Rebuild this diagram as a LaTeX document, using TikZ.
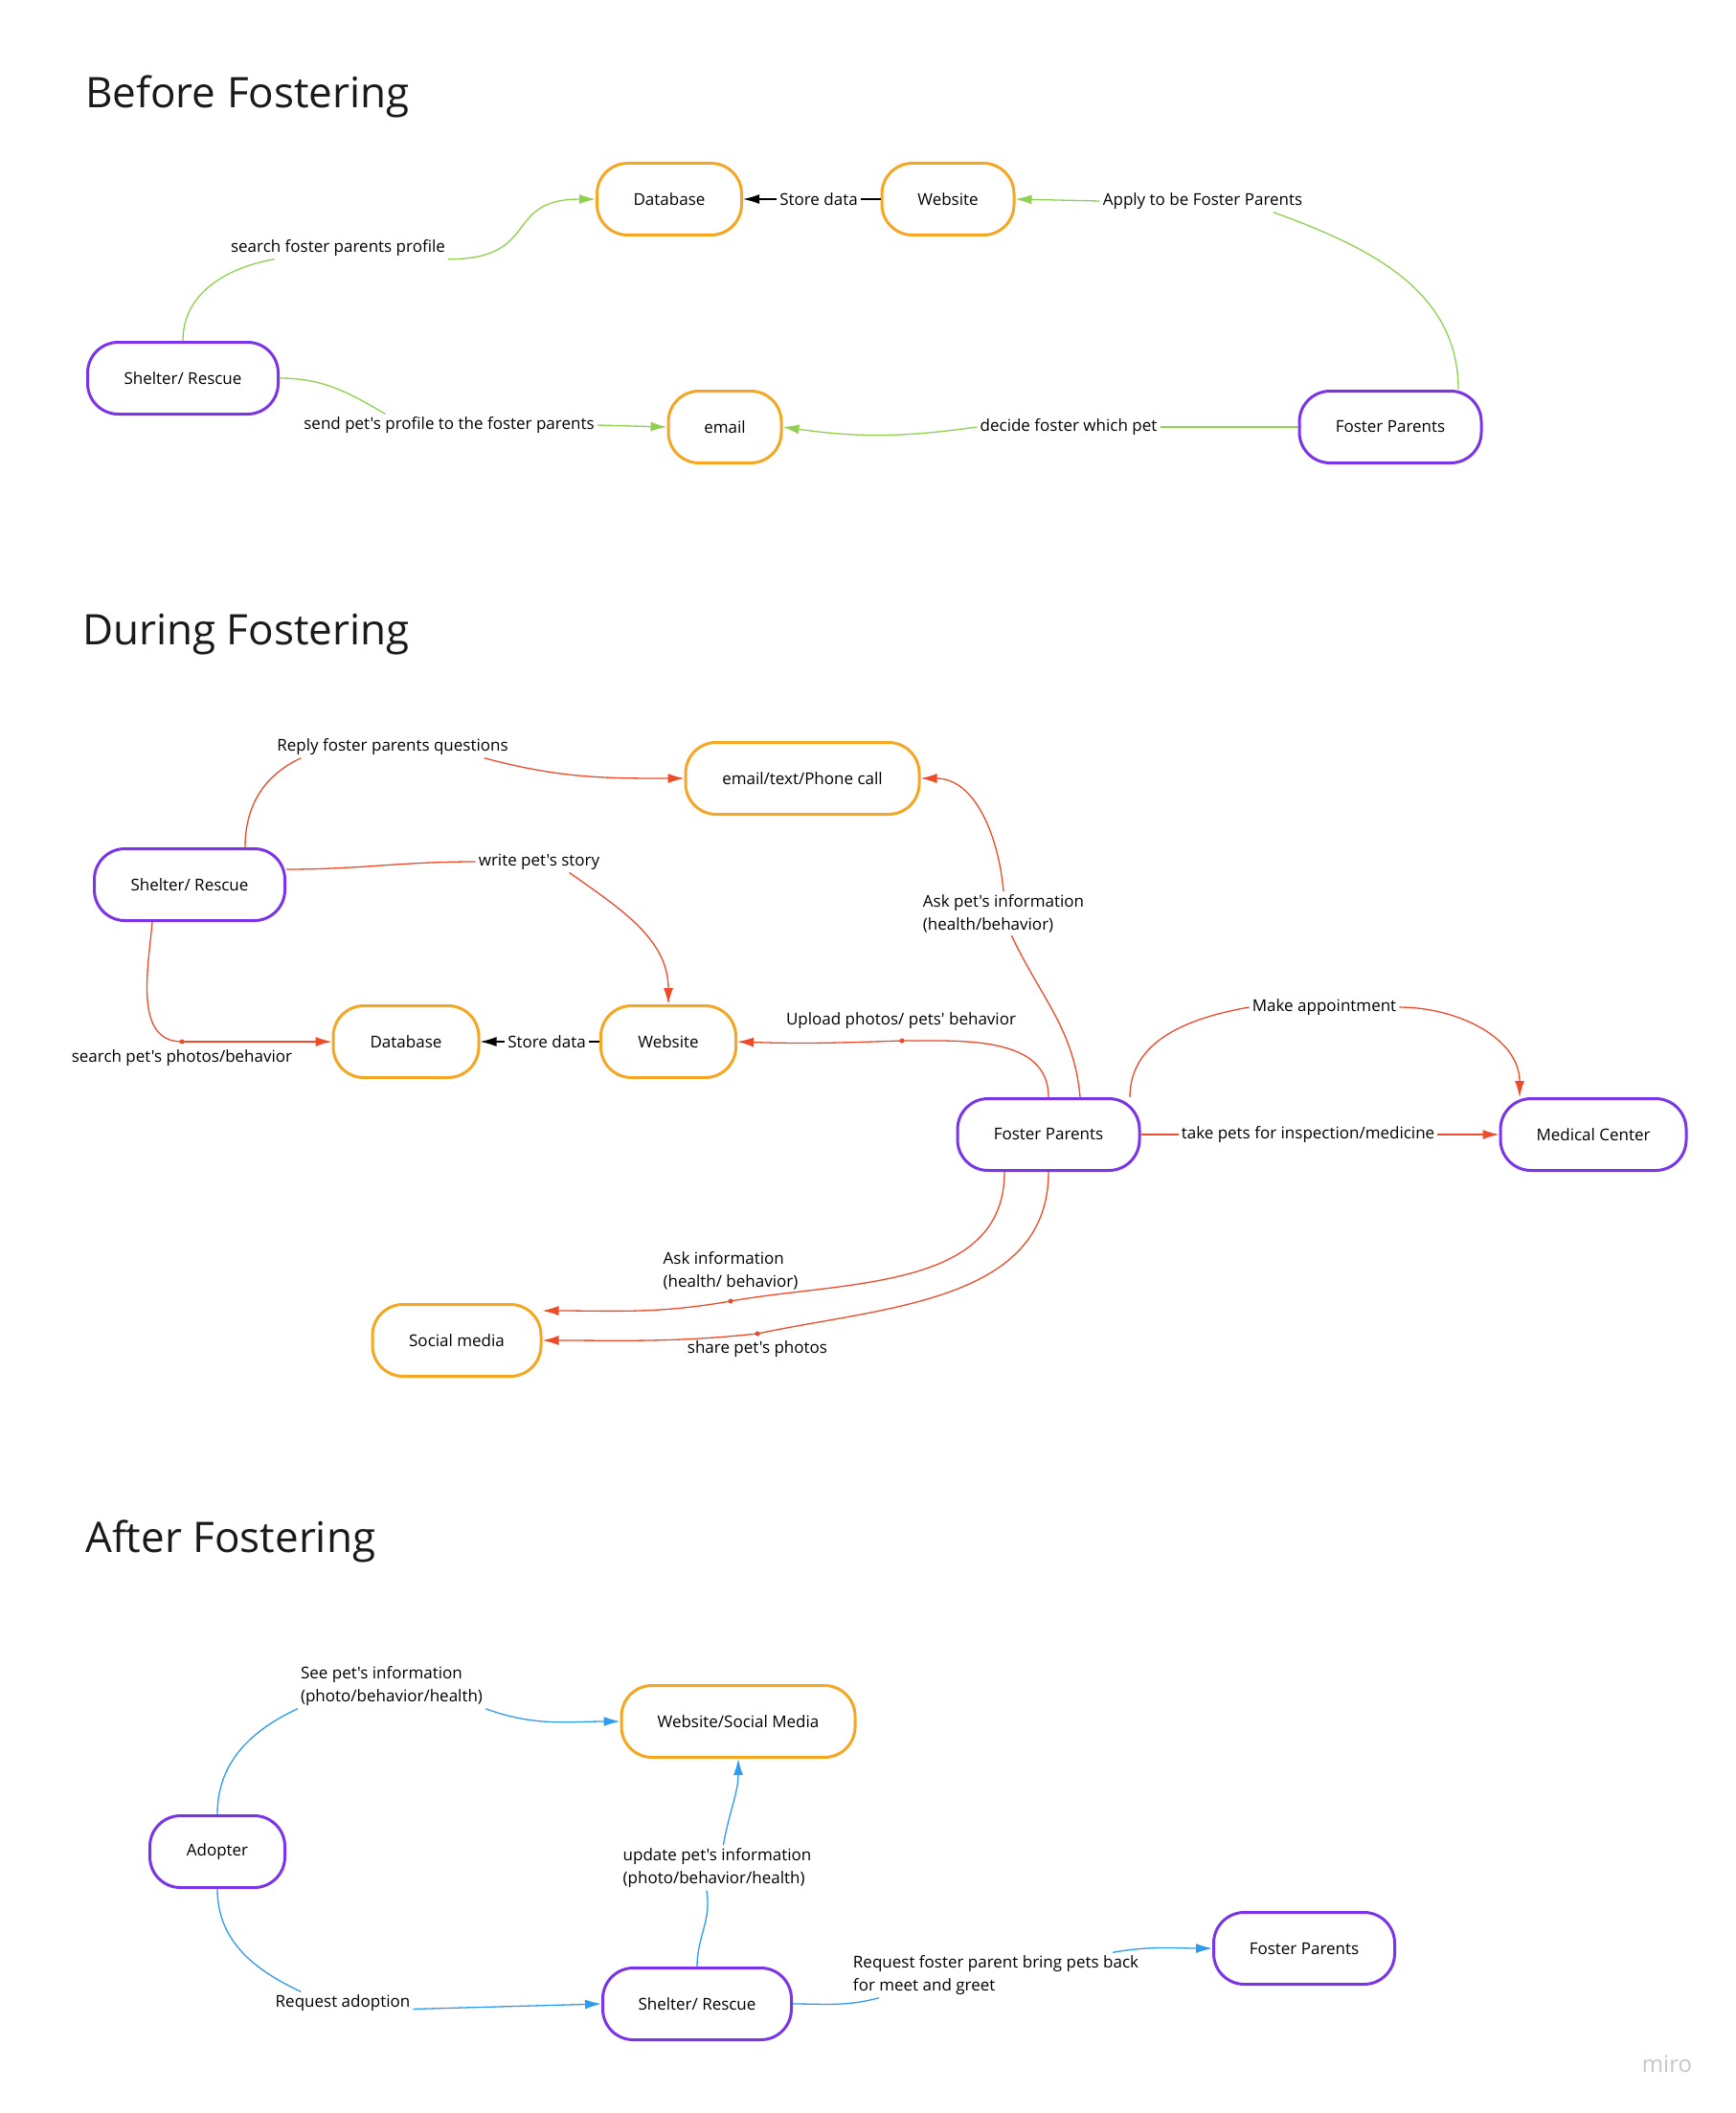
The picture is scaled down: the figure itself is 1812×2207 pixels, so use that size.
\documentclass[tikz,border=0pt]{standalone}
\usepackage{fontspec}
\setmainfont{Open Sans}[Ligatures=TeXOff]
\usepackage{tikz}
\usetikzlibrary{arrows.meta}
\definecolor{boxorange}{HTML}{F5A623}
\definecolor{boxpurple}{HTML}{7B35E8}
\definecolor{flowgreen}{HTML}{8FD14F}
\definecolor{flowred}{HTML}{EE4B2B}
\definecolor{flowblue}{HTML}{2D9BF0}
\definecolor{inkgray}{HTML}{1A1A1A}
\tikzstyle{datastore}=[rectangle,draw=boxorange,line width=3pt,rounded corners=32pt,minimum height=75pt,inner sep=0pt,font=\fontsize{17}{20}\selectfont]
\tikzstyle{party}=[rectangle,draw=boxpurple,line width=3pt,rounded corners=32pt,minimum height=75pt,inner sep=0pt,font=\fontsize{17}{20}\selectfont]
\tikzstyle{lbl}=[inner sep=3pt,font=\fontsize{17}{24}\selectfont,align=left]
\tikzstyle{heading}=[anchor=west,inner sep=0pt,font=\fontsize{44}{52}\selectfont,text=inkgray]
\tikzstyle{mid}=[circle,fill=flowred,inner sep=0pt,minimum size=5pt]
\tikzstyle{gline}=[draw=flowgreen,line width=1.3pt]
\tikzstyle{rline}=[draw=flowred,line width=1.3pt]
\tikzstyle{bline}=[draw=flowblue,line width=1.3pt]
\tikzstyle{kline}=[draw=black,line width=1.3pt]

\begin{document}
\begin{tikzpicture}[x=1pt,y=1pt,>={Latex[length=17pt,width=10pt]}]
    \fill[white] (0,0) rectangle (1812,-2207);
    \useasboundingbox (0,0) rectangle (1812,-2207);

    \node[heading] at (89,-101) (t1) {Before Fostering};
    \node[datastore,minimum width=151pt] at (699,-208) (db1) {Database};
    \node[datastore,minimum width=138pt] at (990,-208) (web1) {Website};
    \node[party,minimum width=199pt] at (191,-395) (sh1) {Shelter/ Rescue};
    \node[datastore,minimum width=118pt] at (757,-446) (em1) {email};
    \node[party,minimum width=190pt] at (1452,-446) (fp1) {Foster Parents};
    \node[lbl] at (855,-208) (lsd1) {Store data};
    \node[lbl] at (353,-259) (lsp) {search foster parents profile};
    \node[lbl] at (1256,-210) (lap) {Apply to be Foster Parents};
    \node[lbl] at (1116,-446) (ldf) {decide foster which pet};
    \node[lbl] at (469,-444) (lsend) {send pet's profile to the foster parents};
    \draw[kline] (web1) -- (lsd1);
    \draw[kline,->] (lsd1) -- (db1);
    \draw[gline] (sh1.north) to[out=90,in=190] (lsp.190);
    \draw[gline,->] (lsp.south east) to[out=0,in=180,looseness=1.5] (db1.west);
    \draw[gline] ([xshift=71pt]fp1.north) to[out=90,in=-20] (lap.351);
    \draw[gline,->] (lap.west) -- (web1.east);
    \draw[gline] (fp1.west) -- (ldf.east);
    \draw[gline,->] (ldf.west) to[out=188,in=-8] (em1.east);
    \draw[gline] (sh1.east) to[out=0,in=150] (lsend.170);
    \draw[gline,->] (lsend.east) -- (em1.west);

    \node[heading] at (86,-663) (t2) {During Fostering};
    \node[datastore,minimum width=244pt] at (838,-813) (em2) {email/text/Phone call};
    \node[party,minimum width=199pt] at (198,-924) (sh2) {Shelter/ Rescue};
    \node[datastore,minimum width=152pt] at (424,-1088) (db2) {Database};
    \node[datastore,minimum width=141pt] at (698,-1088) (web2) {Website};
    \node[party,minimum width=190pt] at (1095,-1185) (fp2) {Foster Parents};
    \node[party,minimum width=194pt] at (1664,-1185) (med) {Medical Center};
    \node[datastore,minimum width=176pt] at (477,-1400) (soc) {Social media};
    \node[lbl] at (410,-780) (lrep) {Reply foster parents questions};
    \node[lbl] at (563,-900) (lwps) {write pet's story};
    \node[lbl] at (1048,-954) (lask) {Ask pet's information\\(health/behavior)};
    \node[lbl] at (941,-1066) (lupl) {Upload photos/ pets' behavior};
    \node[lbl] at (1383,-1052) (lmk) {Make appointment};
    \node[lbl] at (1366,-1185) (ltake) {take pets for inspection/medicine};
    \node[lbl] at (190,-1105) (lspb) {search pet's photos/behavior};
    \node[lbl] at (571,-1088) (lsd2) {Store data};
    \node[lbl] at (763,-1327) (lai) {Ask information\\(health/ behavior)};
    \node[lbl] at (791,-1409) (lshare) {share pet's photos};
    \node[mid] at (942,-1087) (d1) {};
    \node[mid] at (190,-1088) (d2) {};
    \node[mid] at (763,-1359) (d3) {};
    \node[mid] at (791,-1393) (d4) {};
    \draw[rline] ([xshift=58pt]sh2.north) to[out=90,in=205] (lrep.187);
    \draw[rline,->] (lrep.353) to[out=-15,in=180] (em2.west);
    \draw[rline] ([yshift=16pt]sh2.east) to[out=0,in=180] (lwps.west);
    \draw[rline,->] (lwps.340) to[out=-35,in=90] (web2.north);
    \draw[rline] ([xshift=33pt]fp2.north) to[out=95,in=-65] (lask.290);
    \draw[rline,->] (lask.north) to[out=95,in=0] (em2.east);
    \draw[rline] (fp2.north) to[out=90,in=0] (d1.center);
    \draw[rline,->] (d1.center) to[out=182,in=-2] (web2.east);
    \draw[rline] ([xshift=85pt]fp2.north) to[out=90,in=190] (lmk.west);
    \draw[rline,->] (lmk.east) to[out=0,in=90] ([xshift=-77pt]med.north);
    \draw[rline] (fp2.east) -- (ltake.west);
    \draw[rline,->] (ltake.east) -- (med.west);
    \draw[rline] ([xshift=-39pt]sh2.south) to[out=-95,in=180] (d2.center);
    \draw[rline,->] (d2.center) -- (db2.west);
    \draw[kline] (web2) -- (lsd2);
    \draw[kline,->] (lsd2) -- (db2);
    \draw[rline] ([xshift=-46pt]fp2.south) to[out=-90,in=10] (d3.center);
    \draw[rline,->] (d3.center) to[out=190,in=0] ([yshift=31pt]soc.east);
    \draw[rline] (fp2.south) to[out=-90,in=12] (d4.center);
    \draw[rline,->] (d4.center) to[out=186,in=0] (soc.east);

    \node[heading] at (89,-1610) (t3) {After Fostering};
    \node[datastore,minimum width=244pt] at (771,-1798) (wsm) {Website/Social Media};
    \node[party,minimum width=141pt] at (227,-1934) (adopt) {Adopter};
    \node[party,minimum width=197pt] at (728,-2093) (sh3) {Shelter/ Rescue};
    \node[party,minimum width=189pt] at (1362,-2035) (fp3) {Foster Parents};
    \node[lbl] at (409,-1761) (lsee) {See pet's information\\(photo/behavior/health)};
    \node[lbl] at (749,-1951) (lupd) {update pet's information\\(photo/behavior/health)};
    \node[lbl] at (358,-2092) (lreq) {Request adoption};
    \node[lbl] at (1040,-2063) (lreqf) {Request foster parent bring pets back\\for meet and greet};
    \draw[bline] (adopt.north) to[out=90,in=205] (lsee.south west);
    \draw[bline,->] (lsee.south east) to[out=-20,in=180] (wsm.west);
    \draw[bline] (sh3.north) to[out=90,in=-80] (lupd.245);
    \draw[bline,->] (lupd.75) to[out=80,in=-90] (wsm.south);
    \draw[bline] (adopt.south) to[out=-90,in=155] (lreq.165);
    \draw[bline,->] (lreq.355) -- (sh3.west);
    \draw[bline] (sh3.east) to[out=0,in=195] (lreqf.191);
    \draw[bline,->] (lreqf.11) to[out=10,in=180] (fp3.west);

    \node[text=gray!45,font=\fontsize{24}{28}\selectfont] at (1741,-2156) (miro) {miro};
\end{tikzpicture}
\end{document}
